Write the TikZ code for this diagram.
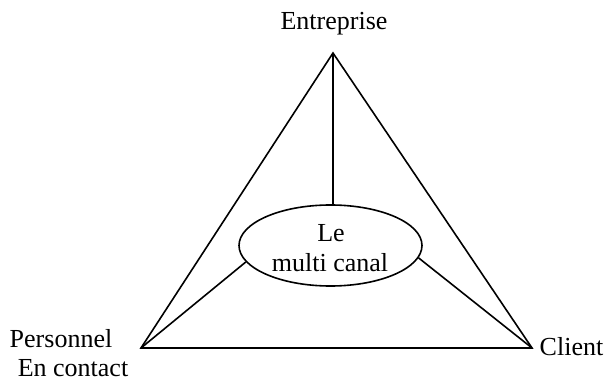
\documentclass[tikz,border=0pt]{standalone}
\usepackage{fontspec}
\setmainfont{Liberation Serif}
\usetikzlibrary{shapes.geometric}
\begin{document}
\begin{tikzpicture}[x=0.75pt,y=-0.75pt,
  edge/.style={line width=1.2pt, line join=miter},
  lbl/.style={anchor=base, inner sep=0pt, font=\fontsize{19.5pt}{23pt}\selectfont},
  hub/.style={draw, ellipse, line width=1.2pt, inner sep=0pt,
     minimum width=137.25pt, minimum height=60.75pt}]
\useasboundingbox (0,0) rectangle (607,381);
\coordinate (A) at (333,53);
\coordinate (L) at (141,348);
\coordinate (R) at (532,348);
\node[hub] (ell) at (330.5,245.5) {};
\draw[edge] (A) -- (L) -- (R) -- cycle;
\draw[edge] (A) -- (A |- ell.north);
\draw[edge] (L) -- (ell.191);
\draw[edge] (R) -- (ell.352);
\node[lbl] (t1) at (334,30) {Entreprise};
\node[lbl] (t2) at (331,242) {Le};
\node[lbl] (t3) at (330,272) {multi canal};
\node[lbl] (t4) at (61,347) {Personnel};
\node[lbl] (t5) at (73,376) {En contact};
\node[lbl] (t6) at (571.5,355) {Client};
\end{tikzpicture}
\end{document}
